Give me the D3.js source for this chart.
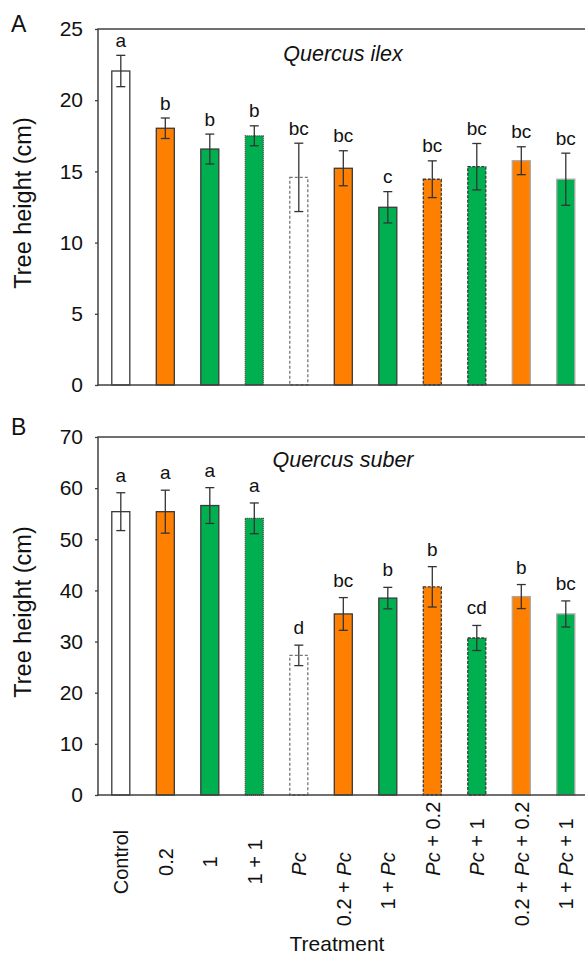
<!DOCTYPE html>
<html><head><meta charset="utf-8">
<script src="https://cdn.jsdelivr.net/npm/d3@7"></script>
<style>
html,body{margin:0;padding:0;background:#fff;}
svg{display:block;font-family:"Liberation Sans",Arial,sans-serif;}
</style></head>
<body><svg id="chart" width="585" height="956"></svg>
<script>
const treatments = ["Control","0.2","1","1 + 1","Pc","0.2 + Pc","1 + Pc","Pc + 0.2","Pc + 1","0.2 + Pc + 0.2","1 + Pc + 1"];
const ilexMean = [22.05,18.03,16.57,17.5,14.58,15.22,12.48,14.45,15.33,15.75,14.45];
const ilexErr  = [1.1,0.72,1.05,0.7,2.4,1.23,1.1,1.29,1.63,0.98,1.83];
const ilexLetters = ["a","b","b","b","bc","bc","c","bc","bc","bc","bc"];
const suberMean = [55.4,55.4,56.6,54.1,27.3,35.4,38.5,40.7,30.7,38.8,35.4];
const suberErr  = [3.7,4.2,3.5,3.0,2.0,3.2,2.1,3.95,2.45,2.35,2.55];
const suberLetters = ["a","a","a","a","d","bc","b","b","cd","b","bc"];
const ilexTicks = [0,5,10,15,20,25];
const suberTicks = [0,10,20,30,40,50,60,70];

const ORANGE = "#FF8000", GREEN = "#00B050";
function styleFor(t){
  const parts = t.split(" + ");
  const hasPc = parts.includes("Pc");
  const doses = parts.filter(p => p !== "Pc" && p !== "Control");
  let fill = "#fff";
  if (doses.length) fill = doses[0] === "0.2" ? ORANGE : GREEN;
  let stroke = "#3a3a3a", dash = null;
  if (t === "Pc") { stroke = "#777"; dash = "3,2"; }
  else if (!hasPc && doses.length === 2) { dash = "1,1"; }
  else if (hasPc && parts[0] === "Pc") { dash = "3,1.5"; }
  else if (hasPc && doses.length === 2) { stroke = "#a8a8a8"; }
  return {fill, stroke, dash};
}

const svg = d3.select("#chart");
const x = d3.scaleBand().domain(treatments).range([98, 588.6]).paddingInner(0.595).paddingOuter(0.31);
const plotRight = 585;

function panel(cfg){
  const y = d3.scaleLinear().domain(cfg.domain).range([cfg.y0, cfg.y1]);
  const g = svg.append("g");
  // bars
  treatments.forEach((t,i)=>{
    const s = styleFor(t);
    g.append("rect")
      .attr("x", x(t)).attr("y", y(cfg.mean[i]))
      .attr("width", x.bandwidth()).attr("height", y(0) - y(cfg.mean[i]))
      .attr("fill", s.fill).attr("stroke", s.stroke).attr("stroke-width", 1.3)
      .attr("stroke-dasharray", s.dash);
  });
  // error bars
  treatments.forEach((t,i)=>{
    const cx = x(t) + x.bandwidth()/2;
    const hi = y(cfg.mean[i] + cfg.err[i]), lo = y(cfg.mean[i] - cfg.err[i]);
    const eg = g.append("g").attr("stroke", "#333").attr("stroke-width", 1.3);
    eg.append("line").attr("x1", cx).attr("x2", cx).attr("y1", hi).attr("y2", lo);
    eg.append("line").attr("x1", cx-4.5).attr("x2", cx+4.5).attr("y1", hi).attr("y2", hi);
    eg.append("line").attr("x1", cx-4.5).attr("x2", cx+4.5).attr("y1", lo).attr("y2", lo);
    g.append("text").attr("x", cx).attr("y", hi - cfg.letterGap)
      .attr("text-anchor", "middle").attr("font-size", 19).attr("fill", "#111")
      .text(cfg.letters[i]);
  });
  // axes
  const ax = g.append("g").attr("transform", `translate(98,0)`)
    .call(d3.axisLeft(y).tickValues(cfg.ticks).tickSize(3).tickSizeOuter(0).tickPadding(12));
  ax.select(".domain").remove();
  ax.selectAll(".tick line").attr("stroke", "#404040").attr("stroke-width", 1.3);
  ax.selectAll(".tick text").attr("font-size", 21).attr("fill", "#111")
    .attr("font-family", '"Liberation Sans",Arial,sans-serif');
  g.append("line").attr("x1", 98).attr("x2", 98).attr("y1", cfg.y1).attr("y2", cfg.y0 + 0.75)
    .attr("stroke", "#404040").attr("stroke-width", 1.5);
  g.append("line").attr("x1", 97.25).attr("x2", plotRight).attr("y1", cfg.y0).attr("y2", cfg.y0)
    .attr("stroke", "#404040").attr("stroke-width", 1.5);
  g.append("line").attr("x1", 97.25).attr("x2", plotRight).attr("y1", cfg.y1).attr("y2", cfg.y1)
    .attr("stroke", "#404040").attr("stroke-width", 1.5);
  // y title
  const cy = (cfg.y0 + cfg.y1)/2 - 4;
  g.append("text").attr("transform", `translate(31,${cy}) rotate(-90)`)
    .attr("text-anchor", "middle").attr("font-size", 23.5).attr("fill", "#111")
    .text("Tree height (cm)");
  // species title
  g.append("text").attr("x", 343).attr("y", cfg.titleY).attr("text-anchor", "middle")
    .attr("font-size", 21.5).attr("font-style", "italic").attr("fill", "#111").text(cfg.title);
  // panel letter
  g.append("text").attr("x", 11).attr("y", cfg.labelY).attr("font-size", 23).attr("fill", "#111").text(cfg.label);
  return y;
}

panel({domain:[0,25], y0:385, y1:29, mean:ilexMean, err:ilexErr, letters:ilexLetters, ticks:ilexTicks,
  letterGap:8.5, title:"Quercus ilex", titleY:61, label:"A", labelY:31.5});
panel({domain:[0,70], y0:795, y1:437, mean:suberMean, err:suberErr, letters:suberLetters, ticks:suberTicks,
  letterGap:11, title:"Quercus suber", titleY:467, label:"B", labelY:435});

// x tick labels (rotated), Pc italic; labels with Pc align the Pc token
treatments.forEach(t=>{
  const cx = x(t) + x.bandwidth()/2 + 7.5;
  const txt = svg.append("text").attr("font-size", 20).attr("fill", "#111").attr("text-anchor", "start");
  const tokens = t.split(/(Pc)/).filter(s => s.length);
  const spans = tokens.map(tok => txt.append("tspan").attr("font-style", tok === "Pc" ? "italic" : null).text(tok));
  const lens = spans.map(s => s.node().getComputedTextLength());
  const total = lens.reduce((a,b)=>a+b,0);
  let y0;
  const pcIdx = tokens.indexOf("Pc");
  if (pcIdx >= 0) {
    const prefix = lens.slice(0, pcIdx).reduce((a,b)=>a+b,0);
    y0 = 864 + prefix + lens[pcIdx]/2;
  } else {
    y0 = 862 + total/2;
  }
  txt.attr("transform", `translate(${cx},${y0}) rotate(-90)`);
});

svg.append("text").attr("x", 337).attr("y", 951).attr("text-anchor", "middle")
  .attr("font-size", 21).attr("fill", "#111").text("Treatment");
</script></body></html>
